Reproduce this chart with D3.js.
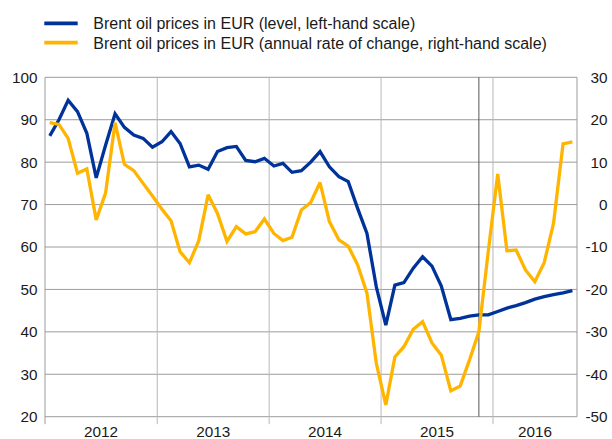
<!DOCTYPE html>
<html>
<head>
<meta charset="utf-8">
<script src="https://cdn.jsdelivr.net/npm/d3@7"></script>
<style>
  html, body { margin: 0; padding: 0; background: #fff; }
  svg { display: block; font-family: "Liberation Sans", Arial, sans-serif; }
</style>
</head>
<body>
<svg id="chart" width="612" height="439"></svg>
<script>
// Monthly observations, January 2012 to September 2016
const startMonth = "2012-01";
const monthCount = 57;

// Brent oil price in EUR per barrel (left-hand scale)
const brentLevel = [
  86.2, 90.0, 94.6, 91.9, 86.8, 76.3, 84.0, 91.4, 88.2, 86.4, 85.6, 83.5,
  84.8, 87.2, 84.4, 78.9, 79.3, 78.3, 82.5, 83.4, 83.7, 80.4, 80.1, 80.9,
  79.1, 79.7, 77.6, 78.0, 80.0, 82.5, 78.9, 76.6, 75.4, 69.1, 63.2, 50.6,
  41.6, 51.0, 51.6, 55.0, 57.7, 55.5, 50.8, 42.9, 43.2, 43.7, 44.0, 44.0,
  44.8, 45.6, 46.2, 46.9, 47.7, 48.3, 48.8, 49.2, 49.7
];

// Annual rate of change in % (right-hand scale)
const brentChange = [
  19.3, 18.9, 15.6, 7.4, 8.4, -3.6, 2.7, 19.3, 9.5, 8.0, 5.0, 2.0,
  -1.1, -3.8, -11.1, -13.7, -8.5, 2.3, -2.1, -8.7, -5.2, -6.9, -6.4, -3.4,
  -6.8, -8.5, -7.7, -1.3, 0.5, 5.2, -4.0, -8.3, -9.8, -14.2, -20.9, -37.4,
  -47.2, -35.9, -33.5, -29.4, -27.6, -32.6, -35.5, -43.9, -42.8, -36.6, -30.0, -11.1,
  7.2, -10.9, -10.7, -15.4, -18.2, -13.7, -4.4, 14.3, 14.8
];

const leftTicks = [20, 30, 40, 50, 60, 70, 80, 90, 100];
const rightTicks = [-50, -40, -30, -20, -10, 0, 10, 20, 30];
const yearLabels = ["2012", "2013", "2014", "2015", "2016"];
const markerMonth = "2015-11";

const seriesNames = [
  "Brent oil prices in EUR (level, left-hand scale)",
  "Brent oil prices in EUR (annual rate of change, right-hand scale)"
];
const seriesColors = ["#003399", "#ffb400"];

const svg = d3.select("#chart");
const plot = { left: 45, right: 577, top: 77.3, bottom: 416.7 };

const parseMonth = d3.timeParse("%Y-%m");
const first = parseMonth(startMonth);
const end = d3.timeMonth.offset(first, monthCount);
const months = d3.timeMonth.range(first, end);
// each observation sits in the middle of its month
const mid = d => new Date((d.getTime() + d3.timeMonth.offset(d, 1).getTime()) / 2);

const x = d3.scaleTime().domain([first, end]).range([plot.left, plot.right]);
const yL = d3.scaleLinear().domain([20, 100]).range([plot.bottom, plot.top]);
const yR = d3.scaleLinear().domain([-50, 30]).range([plot.bottom, plot.top]);

// horizontal gridlines
svg.append("g").selectAll("line").data(leftTicks).join("line")
  .attr("x1", plot.left).attr("x2", plot.right)
  .attr("y1", d => yL(d)).attr("y2", d => yL(d))
  .attr("stroke", "#9c9c9c").attr("stroke-width", 1);

// year boundaries, extending below the plot as tick marks
const yearStarts = yearLabels.map(y => new Date(+y, 0, 1));
svg.append("g").selectAll("line").data(yearStarts).join("line")
  .attr("x1", d => x(d)).attr("x2", d => x(d))
  .attr("y1", plot.top).attr("y2", plot.bottom + 7.5)
  .attr("stroke", d => +d === +first ? "#9c9c9c" : "#b8b8b8").attr("stroke-width", 1);

// right frame
svg.append("line")
  .attr("x1", plot.right).attr("x2", plot.right)
  .attr("y1", plot.top).attr("y2", plot.bottom)
  .attr("stroke", "#9c9c9c").attr("stroke-width", 1);

// marker between actual data and futures
const mDate = mid(parseMonth(markerMonth));
svg.append("line")
  .attr("x1", x(mDate)).attr("x2", x(mDate))
  .attr("y1", plot.top).attr("y2", plot.bottom)
  .attr("stroke", "#555").attr("stroke-width", 1);

// left axis labels
const tickFont = 15.3;
svg.append("g").selectAll("text").data(leftTicks).join("text")
  .attr("x", 37.5).attr("y", d => yL(d) + 5.4)
  .attr("text-anchor", "end").attr("font-size", tickFont).attr("fill", "#1a1a1a")
  .text(d => d);

// right axis labels
svg.append("g").selectAll("text").data(rightTicks).join("text")
  .attr("x", 607.5).attr("y", d => yR(d) + 5.4)
  .attr("text-anchor", "end").attr("font-size", tickFont).attr("fill", "#1a1a1a")
  .text(d => d);

// year labels, centred on the visible part of each year
svg.append("g").selectAll("text").data(yearLabels).join("text")
  .attr("x", d => {
    const a = new Date(+d, 0, 1), b = d3.min([new Date(+d + 1, 0, 1), end]);
    return (x(a) + x(b)) / 2;
  })
  .attr("y", 437)
  .attr("text-anchor", "middle").attr("font-size", tickFont).attr("fill", "#1a1a1a")
  .text(d => d);

// series lines
const lineL = d3.line().x((d, i) => x(mid(months[i]))).y(d => yL(d));
const lineR = d3.line().x((d, i) => x(mid(months[i]))).y(d => yR(d));

svg.append("path").datum(brentLevel)
  .attr("d", lineL).attr("fill", "none")
  .attr("stroke", seriesColors[0]).attr("stroke-width", 3.3)
  .attr("stroke-linejoin", "miter").attr("stroke-miterlimit", 3);

svg.append("path").datum(brentChange)
  .attr("d", lineR).attr("fill", "none")
  .attr("stroke", seriesColors[1]).attr("stroke-width", 3.3)
  .attr("stroke-linejoin", "miter").attr("stroke-miterlimit", 3);

// legend
const legend = svg.append("g");
seriesNames.forEach((name, i) => {
  const cy = 23.3 + i * 19.4;
  legend.append("line")
    .attr("x1", 44.3).attr("x2", 77.7).attr("y1", cy).attr("y2", cy)
    .attr("stroke", seriesColors[i]).attr("stroke-width", 3.8);
  legend.append("text")
    .attr("x", 93.3).attr("y", cy + 5.8)
    .attr("font-size", 16).attr("fill", "#1a1a1a")
    .text(name);
});
</script>
</body>
</html>
